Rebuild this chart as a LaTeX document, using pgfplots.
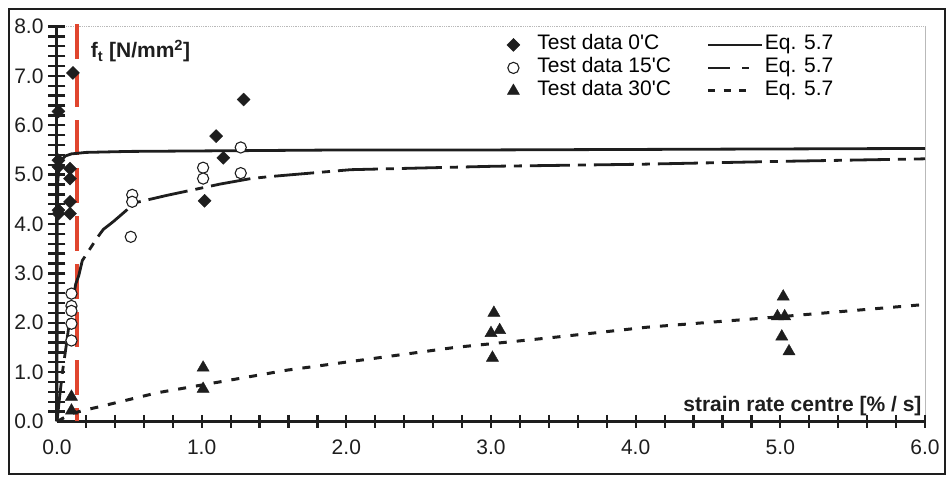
\documentclass[border=0pt]{standalone}
\usepackage{fontspec}
\setmainfont{Liberation Sans}
\usepackage{pgfplots}
\pgfplotsset{compat=1.18}

\definecolor{ink}{HTML}{1E1E1E}
\definecolor{redmark}{HTML}{E0452E}

% straight legend line of a given length
\pgfplotsset{legline/.style={legend image code/.code={\draw[##1] (0pt,0pt) -- (#1,0pt);}}}

\begin{document}
\begin{tikzpicture}
\begin{axis}[
  scale only axis,
  width=868pt, height=395pt,
  xmin=0, xmax=6, ymin=0, ymax=8,
  axis x line=bottom, axis y line=left,
  axis line style={-, line width=3pt, ink},
  xtick={0,1,...,6}, ytick={0,1,...,8},
  major tick length=0pt,
  tick label style={font=\fontsize{21}{24}\selectfont, text=ink},
  xticklabel style={yshift=-15pt},
  yticklabel style={xshift=-10pt},
  /pgf/number format/fixed,
  /pgf/number format/fixed zerofill,
  /pgf/number format/precision=1,
  /pgf/number format/assume math mode=true,
  clip=false,
  legend columns=2,
  legend cell align=left,
  legend style={draw=none, fill=none, inner sep=0pt, outer sep=0pt,
    at={(axis cs:3.11,7.86)}, anchor=north west,
    font=\fontsize{21}{24}\selectfont,
    nodes={inner sep=1.5pt, text height=15pt, text depth=5pt},
    row sep=0pt,
    /tikz/column 1/.append style={column sep=16pt},
    /tikz/column 2/.append style={column sep=34pt}},
]

% frame of the plotting region
\draw[gray!55, line width=0.8pt, densely dotted] (axis cs:0,8) -- (axis cs:6,8);
\draw[gray!55, line width=0.8pt] (axis cs:6,0) -- (axis cs:6,8);

% tick marks crossing the axes every 0.2
\addplot[only marks, mark=|, mark size=6.5pt, mark options={draw=ink, line width=2.2pt}, forget plot]
  coordinates {
  (0.2,0) (0.4,0) (0.6,0) (0.8,0) (1.0,0) (1.2,0) (1.4,0) (1.6,0) (1.8,0) (2.0,0)
  (2.2,0) (2.4,0) (2.6,0) (2.8,0) (3.0,0) (3.2,0) (3.4,0) (3.6,0) (3.8,0) (4.0,0)
  (4.2,0) (4.4,0) (4.6,0) (4.8,0) (5.0,0) (5.2,0) (5.4,0) (5.6,0) (5.8,0) (6.0,0)};
\addplot[only marks, mark=-, mark size=8.5pt, mark options={draw=ink, line width=2.4pt}, forget plot]
  coordinates {
  (0,0.2) (0,0.4) (0,0.6) (0,0.8) (0,1.0) (0,1.2) (0,1.4) (0,1.6) (0,1.8) (0,2.0)
  (0,2.2) (0,2.4) (0,2.6) (0,2.8) (0,3.0) (0,3.2) (0,3.4) (0,3.6) (0,3.8) (0,4.0)
  (0,4.2) (0,4.4) (0,4.6) (0,4.8) (0,5.0) (0,5.2) (0,5.4) (0,5.6) (0,5.8) (0,6.0)
  (0,6.2) (0,6.4) (0,6.6) (0,6.8) (0,7.0) (0,7.2) (0,7.4) (0,7.6) (0,7.8) (0,8.0)};

% strain-rate limit marker
\addplot[redmark, line width=3.6pt, dash pattern=on 35pt off 13pt, forget plot]
  coordinates {(0.14,8.05) (0.14,0)};

% Eq. 5.7 at 0 C
\addplot[ink, line width=2.8pt, forget plot] coordinates {
  (0,0) (0.002,4.0) (0.006,4.9) (0.015,5.15) (0.03,5.30) (0.06,5.38)
  (0.10,5.42) (0.20,5.45) (0.50,5.47) (1.00,5.48) (2.00,5.50)
  (3.00,5.50) (4.00,5.51) (5.00,5.52) (6.00,5.53)};

% Eq. 5.7 at 15 C
\addplot[ink, line width=2.8pt, dash pattern=on 40pt off 8pt on 8pt off 8pt, forget plot]
  coordinates {
  (0,0) (0.02,0.55) (0.04,1.05) (0.063,1.52) (0.10,2.33) (0.13,2.79)
  (0.15,2.95) (0.175,3.26) (0.28,3.73) (0.32,3.89) (0.39,4.05)
  (0.54,4.43) (0.76,4.58) (1.13,4.81) (1.34,4.92) (1.47,4.96)
  (2.03,5.10) (3.03,5.17) (4.03,5.21) (5.03,5.27) (6.00,5.32)};

% Eq. 5.7 at 30 C
\addplot[ink, line width=3pt, dash pattern=on 8pt off 10pt, forget plot] coordinates {
  (0,0) (0.10,0.16) (0.22,0.25) (0.28,0.29) (0.69,0.58) (1.16,0.82)
  (1.59,1.04) (2.75,1.50) (3.39,1.69) (4.08,1.91) (4.95,2.11) (6.00,2.37)};

% test data 0 C
\addplot[only marks, mark=square*, mark size=4.6pt,
  mark options={rotate=45, fill=ink, draw=ink}, forget plot] coordinates {
  (0.01,6.28) (0.01,5.29) (0.01,5.16) (0.01,4.28) (0.01,4.21)
  (0.11,7.06) (0.09,5.12) (0.09,4.92) (0.09,4.45) (0.09,4.21)
  (1.02,4.47) (1.10,5.78) (1.15,5.34) (1.29,6.52)};

% test data 15 C
\addplot[only marks, mark=*, mark size=5.6pt,
  mark options={fill=white, draw=ink, line width=1.1pt}, forget plot] coordinates {
  (0.10,2.59) (0.10,2.34) (0.10,2.24) (0.10,1.98) (0.10,1.64)
  (0.52,4.59) (0.52,4.45) (0.51,3.74)
  (1.01,5.14) (1.01,4.92) (1.27,5.55) (1.27,5.03)};

% test data 30 C
\addplot[only marks, mark=triangle*, mark size=7pt,
  mark options={fill=ink, draw=ink}, forget plot] coordinates {
  (0.10,0.50) (0.10,0.22) (1.01,1.09) (1.01,0.66)
  (3.02,2.20) (3.00,1.79) (3.06,1.85) (3.01,1.29)
  (5.02,2.53) (4.98,2.13) (5.03,2.13) (5.01,1.72) (5.06,1.42)};

% legend, row by row
\addlegendimage{only marks, mark=square*, mark size=4.6pt, mark options={rotate=45, fill=ink, draw=ink}}
\addlegendentry{Test data 0\textquotesingle C}
\addlegendimage{ink, line width=2.8pt, legline=54pt}
\addlegendentry{Eq. 5.7}
\addlegendimage{only marks, mark=*, mark size=5.6pt, mark options={fill=white, draw=ink, line width=1.1pt}}
\addlegendentry{Test data 15\textquotesingle C}
\addlegendimage{ink, line width=2.8pt, dash pattern=on 22pt off 12pt on 7pt off 20pt, legline=54pt}
\addlegendentry{Eq. 5.7}
\addlegendimage{only marks, mark=triangle*, mark size=7pt, mark options={fill=ink, draw=ink}}
\addlegendentry{Test data 30\textquotesingle C}
\addlegendimage{ink, line width=3pt, dash pattern=on 7pt off 8.5pt, legline=42pt}
\addlegendentry{Eq. 5.7}

% axis titles
\node[anchor=west, font=\bfseries\fontsize{21}{24}\selectfont, text=ink]
  at (axis cs:0.21,7.5) {f\textsubscript{t} [N/mm\textsuperscript{2}]};
\node[anchor=base east, font=\bfseries\fontsize{21}{24}\selectfont, text=ink,
  yshift=10pt] at (axis cs:6,0) {strain rate centre [\% / s]};
\end{axis}

% outer border and page extent
\draw[ink, line width=1.6pt]
  ([shift={(-48pt,-52.5pt)}]current axis.south west) rectangle
  ([shift={(888pt,412.5pt)}]current axis.south west);
\path ([shift={(-57pt,-59.5pt)}]current axis.south west) rectangle
  ([shift={(891pt,421.5pt)}]current axis.south west);
\end{tikzpicture}
\end{document}
